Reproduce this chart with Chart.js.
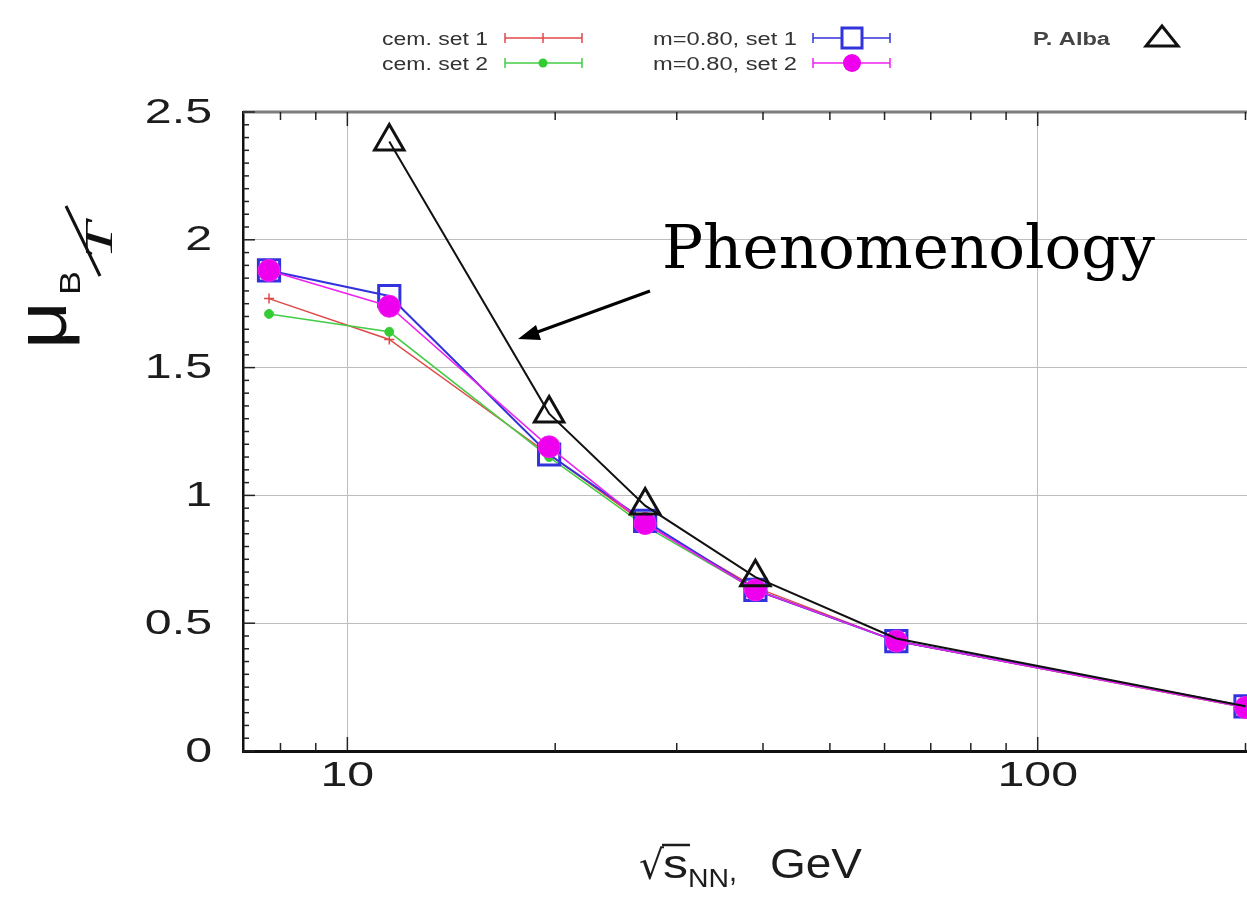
<!DOCTYPE html>
<html>
<head>
<meta charset="utf-8">
<title>mu_B/T vs collision energy</title>
<script src="https://cdn.jsdelivr.net/npm/chart.js@4.4.1/dist/chart.umd.min.js"></script>
<style>
  html, body { margin: 0; padding: 0; background: #ffffff; }
  #wrap { width: 1247px; height: 899px; position: relative; }
</style>
</head>
<body>
<div id="wrap"><canvas id="chart" width="1247" height="899"></canvas></div>
<script>
// Collision energies (GeV) of the freeze-out points
const energies = [7.7, 11.5, 19.6, 27, 39, 62.4, 200];
// mu_B / T for each parameter set
const cemSet1 = [1.77, 1.61, 1.16, 0.89, 0.64, 0.43, 0.17];
const cemSet2 = [1.71, 1.64, 1.15, 0.88, 0.63, 0.43, 0.17];
const mSet1   = [1.88, 1.78, 1.16, 0.90, 0.63, 0.43, 0.175];
const mSet2   = [1.88, 1.74, 1.19, 0.89, 0.63, 0.43, 0.17];
// P. Alba reference curve
const albaEnergies = [11.5, 19.6, 27, 39, 62.4, 200];
const albaValues   = [2.385, 1.32, 0.96, 0.68, 0.44, 0.175];
const albaMarkers  = [true, true, true, true, false, false];

// Axis ticks
const yTickValues = [0, 0.5, 1, 1.5, 2, 2.5];
const yTickLabels = ['0', '0.5', '1', '1.5', '2', '2.5'];
const xTickValues = [10, 100];
const xTickLabels = ['10', '100'];

const seriesLabels = ['cem. set 1', 'cem. set 2', 'm=0.80, set 1', 'm=0.80, set 2', 'P. Alba'];

const pts = (xs, ys) => xs.map((e, i) => ({ x: e, y: ys[i] }));

// Text drawn with a horizontal scale so it spans a given width
function wideText(ctx, text, x, y, font, width, align, baseline) {
  ctx.save();
  ctx.font = font;
  const w = ctx.measureText(text).width;
  const sx = width ? width / w : 1;
  ctx.translate(x, y);
  ctx.scale(sx, 1);
  ctx.textAlign = align || 'left';
  ctx.textBaseline = baseline || 'alphabetic';
  ctx.fillText(text, 0, 0);
  ctx.restore();
}

// Rotated (reading upwards) text with its own width and height scaling
function upText(ctx, text, x, y, font, width, hScale) {
  ctx.save();
  ctx.translate(x, y);
  ctx.rotate(-Math.PI / 2);
  ctx.font = font;
  const w = ctx.measureText(text).width;
  ctx.scale(width / w, hScale || 1);
  ctx.textAlign = 'left';
  ctx.textBaseline = 'alphabetic';
  ctx.fillText(text, 0, 0);
  ctx.restore();
}

function seg(ctx, x1, y1, x2, y2) {
  ctx.beginPath(); ctx.moveTo(x1, y1); ctx.lineTo(x2, y2); ctx.stroke();
}

const decor = {
  id: 'decor',
  afterDraw(chart) {
    const { ctx, chartArea: a, scales: { x, y } } = chart;
    const byLabel = l => chart.data.datasets.find(d => d.label === l);
    ctx.save();

    // top frame
    ctx.strokeStyle = '#7d7d7d';
    ctx.lineWidth = 3;
    seg(ctx, a.left, a.top, a.right, a.top);

    // inner tick marks, y
    ctx.strokeStyle = '#222';
    ctx.lineWidth = 1.5;
    for (let k = 0; k <= 50; k++) {
      const py = y.getPixelForValue(k * 0.05);
      const len = k % 10 === 0 ? 12 : 6;
      seg(ctx, a.left, py, a.left + len, py);
    }
    // inner tick marks, x (log)
    for (const dec of [1, 10, 100]) {
      for (let m = 1; m <= 9; m++) {
        const v = dec * m;
        if (v < x.min || v > x.max) continue;
        const px = x.getPixelForValue(v);
        const len = m === 1 ? 14 : 8;
        seg(ctx, px, a.bottom, px, a.bottom - len);
        seg(ctx, px, a.top, px, a.top + len);
      }
    }

    // tick labels
    ctx.fillStyle = '#1c1c1c';
    const tickFont = '35px "Liberation Sans", Arial, sans-serif';
    yTickValues.forEach((v, i) => {
      const py = y.getPixelForValue(v);
      const lab = yTickLabels[i];
      ctx.font = tickFont;
      const w = ctx.measureText(lab).width * 1.38;
      wideText(ctx, lab, 212 - w, py + 1, tickFont, w, 'left', 'middle');
    });
    xTickValues.forEach((v, i) => {
      const px = x.getPixelForValue(v);
      const lab = xTickLabels[i];
      ctx.font = tickFont;
      const w = ctx.measureText(lab).width * 1.38;
      wideText(ctx, lab, px - w / 2, a.bottom + 25, tickFont, w, 'left', 'middle');
    });

    // x-axis title: sqrt(s_NN), GeV
    ctx.fillStyle = '#1c1c1c';
    wideText(ctx, '\u221A', 639, 879, '40px "DejaVu Sans", sans-serif', 25, 'left', 'alphabetic');
    ctx.strokeStyle = '#1c1c1c';
    ctx.lineWidth = 2.5;
    seg(ctx, 662, 845, 690, 845);
    wideText(ctx, 's', 663, 878, '40px "Liberation Sans", Arial, sans-serif', 25, 'left', 'alphabetic');
    wideText(ctx, 'NN', 688, 887, '26px "Liberation Sans", Arial, sans-serif', 41, 'left', 'alphabetic');
    wideText(ctx, ',', 729, 881, '30px "Liberation Sans", Arial, sans-serif', 8, 'left', 'alphabetic');
    wideText(ctx, 'GeV', 770, 878, '42px "Liberation Sans", Arial, sans-serif', 92, 'left', 'alphabetic');

    // y-axis title: mu_B / T, reading upwards
    ctx.fillStyle = '#111';
    upText(ctx, '\u03BC', 66, 349, '72px "Liberation Sans", Arial, sans-serif', 48, 1);
    upText(ctx, 'B', 80, 295, '30px "Liberation Sans", Arial, sans-serif', 24, 1);
    ctx.strokeStyle = '#111';
    ctx.lineWidth = 3;
    seg(ctx, 100, 276, 66, 206);
    upText(ctx, 'T', 112, 259, 'italic 40px "Liberation Serif", serif', 37, 1);

    // legend
    const s1 = byLabel(seriesLabels[0]), s2 = byLabel(seriesLabels[1]);
    const s3 = byLabel(seriesLabels[2]), s4 = byLabel(seriesLabels[3]);
    const s5 = byLabel(seriesLabels[4]);
    const lf = '18px "Liberation Sans", Arial, sans-serif';
    const row1 = 38, row2 = 63;
    const cap = (x0, x1, yy, col) => {
      ctx.strokeStyle = col; ctx.lineWidth = 1.5;
      seg(ctx, x0, yy, x1, yy);
      seg(ctx, x0, yy - 5, x0, yy + 5);
      seg(ctx, x1, yy - 5, x1, yy + 5);
    };
    ctx.fillStyle = '#333';
    wideText(ctx, s1.label, 382, row1 + 7, lf, 106);
    cap(505, 582, row1, s1.borderColor);
    seg(ctx, 543, row1 - 5, 543, row1 + 5);

    ctx.fillStyle = '#333';
    wideText(ctx, s2.label, 382, row2 + 7, lf, 106);
    cap(505, 582, row2, s2.borderColor);
    ctx.fillStyle = s2.backgroundColor;
    ctx.beginPath(); ctx.arc(543, row2, 4.5, 0, Math.PI * 2); ctx.fill();

    ctx.fillStyle = '#333';
    wideText(ctx, s3.label, 653, row1 + 7, lf, 144);
    cap(813, 890, row1, s3.borderColor);
    ctx.fillStyle = '#fff';
    ctx.fillRect(842, row1 - 10, 20, 20);
    ctx.strokeStyle = s3.borderColor; ctx.lineWidth = 3;
    ctx.strokeRect(842, row1 - 10, 20, 20);

    ctx.fillStyle = '#333';
    wideText(ctx, s4.label, 653, row2 + 7, lf, 144);
    cap(813, 890, row2, s4.borderColor);
    ctx.fillStyle = s4.backgroundColor;
    ctx.beginPath(); ctx.arc(852, row2, 9, 0, Math.PI * 2); ctx.fill();

    ctx.fillStyle = '#444';
    wideText(ctx, s5.label, 1033, row1 + 7, 'bold 18px "Liberation Sans", Arial, sans-serif', 77);
    ctx.strokeStyle = s5.borderColor; ctx.lineWidth = 3;
    ctx.beginPath();
    ctx.moveTo(1162, 26); ctx.lineTo(1178, 46); ctx.lineTo(1146, 46); ctx.closePath();
    ctx.stroke();

    // annotation with arrow
    ctx.fillStyle = '#000';
    wideText(ctx, 'Phenomenology', 662, 268, '60px "DejaVu Serif", serif', 493);
    ctx.strokeStyle = '#000';
    ctx.lineWidth = 3;
    seg(ctx, 650, 291, 532, 334);
    ctx.beginPath();
    ctx.moveTo(518, 339);
    ctx.lineTo(536, 325);
    ctx.lineTo(541, 340);
    ctx.closePath();
    ctx.fill();

    ctx.restore();
  }
};

const chart = new Chart(document.getElementById('chart'), {
  type: 'line',
  data: {
    datasets: [
      {
        label: seriesLabels[4],
        data: pts(albaEnergies, albaValues),
        borderColor: '#111111', backgroundColor: 'rgba(0,0,0,0)',
        borderWidth: 2, pointStyle: 'triangle',
        pointRadius: albaMarkers.map(m => (m ? 17 : 0)),
        pointBorderWidth: 3, order: 1
      },
      {
        label: seriesLabels[3],
        data: pts(energies, mSet2),
        borderColor: '#ee22ee', backgroundColor: '#ee00ee',
        borderWidth: 1.5, pointStyle: 'circle', pointRadius: 11,
        pointBorderWidth: 1, order: 2
      },
      {
        label: seriesLabels[2],
        data: pts(energies, mSet1),
        borderColor: '#3333dd', backgroundColor: 'rgba(255,255,255,0)',
        borderWidth: 2, pointStyle: 'rect', pointRadius: 15,
        pointBorderWidth: 3, order: 3
      },
      {
        label: seriesLabels[1],
        data: pts(energies, cemSet2),
        borderColor: '#44cc44', backgroundColor: '#33cc33',
        borderWidth: 1.5, pointStyle: 'circle', pointRadius: 4.5,
        pointBorderWidth: 1, order: 4
      },
      {
        label: seriesLabels[0],
        data: pts(energies, cemSet1),
        borderColor: '#e04848', backgroundColor: '#e04848',
        borderWidth: 1.5, pointStyle: 'cross', pointRadius: 5,
        pointBorderWidth: 1.5, order: 5
      }
    ].map(d => ({ ...d, tension: 0, fill: false, clip: false }))
  },
  options: {
    responsive: false,
    animation: false,
    devicePixelRatio: 1,
    layout: { autoPadding: false, padding: { left: 243, right: 0, top: 112, bottom: 148 } },
    plugins: { legend: { display: false }, tooltip: { enabled: false } },
    scales: {
      x: {
        type: 'logarithmic', min: 7.06, max: 201,
        afterBuildTicks: axis => { axis.ticks = xTickValues.map(v => ({ value: v })); },
        afterFit: axis => { axis.height = 0; axis.paddingLeft = 0; axis.paddingRight = 0; },
        ticks: { display: false },
        grid: { color: '#bdbdbd', lineWidth: 1, drawTicks: false },
        border: { display: true, color: '#111', width: 3 }
      },
      y: {
        min: 0, max: 2.5,
        afterBuildTicks: axis => { axis.ticks = yTickValues.map(v => ({ value: v })); },
        afterFit: axis => { axis.width = 0; axis.paddingTop = 0; axis.paddingBottom = 0; },
        ticks: { display: false },
        grid: {
          color: c => (c.tick && (c.tick.value === 0 || c.tick.value === 2.5)) ? 'rgba(0,0,0,0)' : '#bdbdbd',
          lineWidth: 1, drawTicks: false
        },
        border: { display: true, color: '#111', width: 2.5 }
      }
    }
  },
  plugins: [decor]
});
</script>
</body>
</html>
